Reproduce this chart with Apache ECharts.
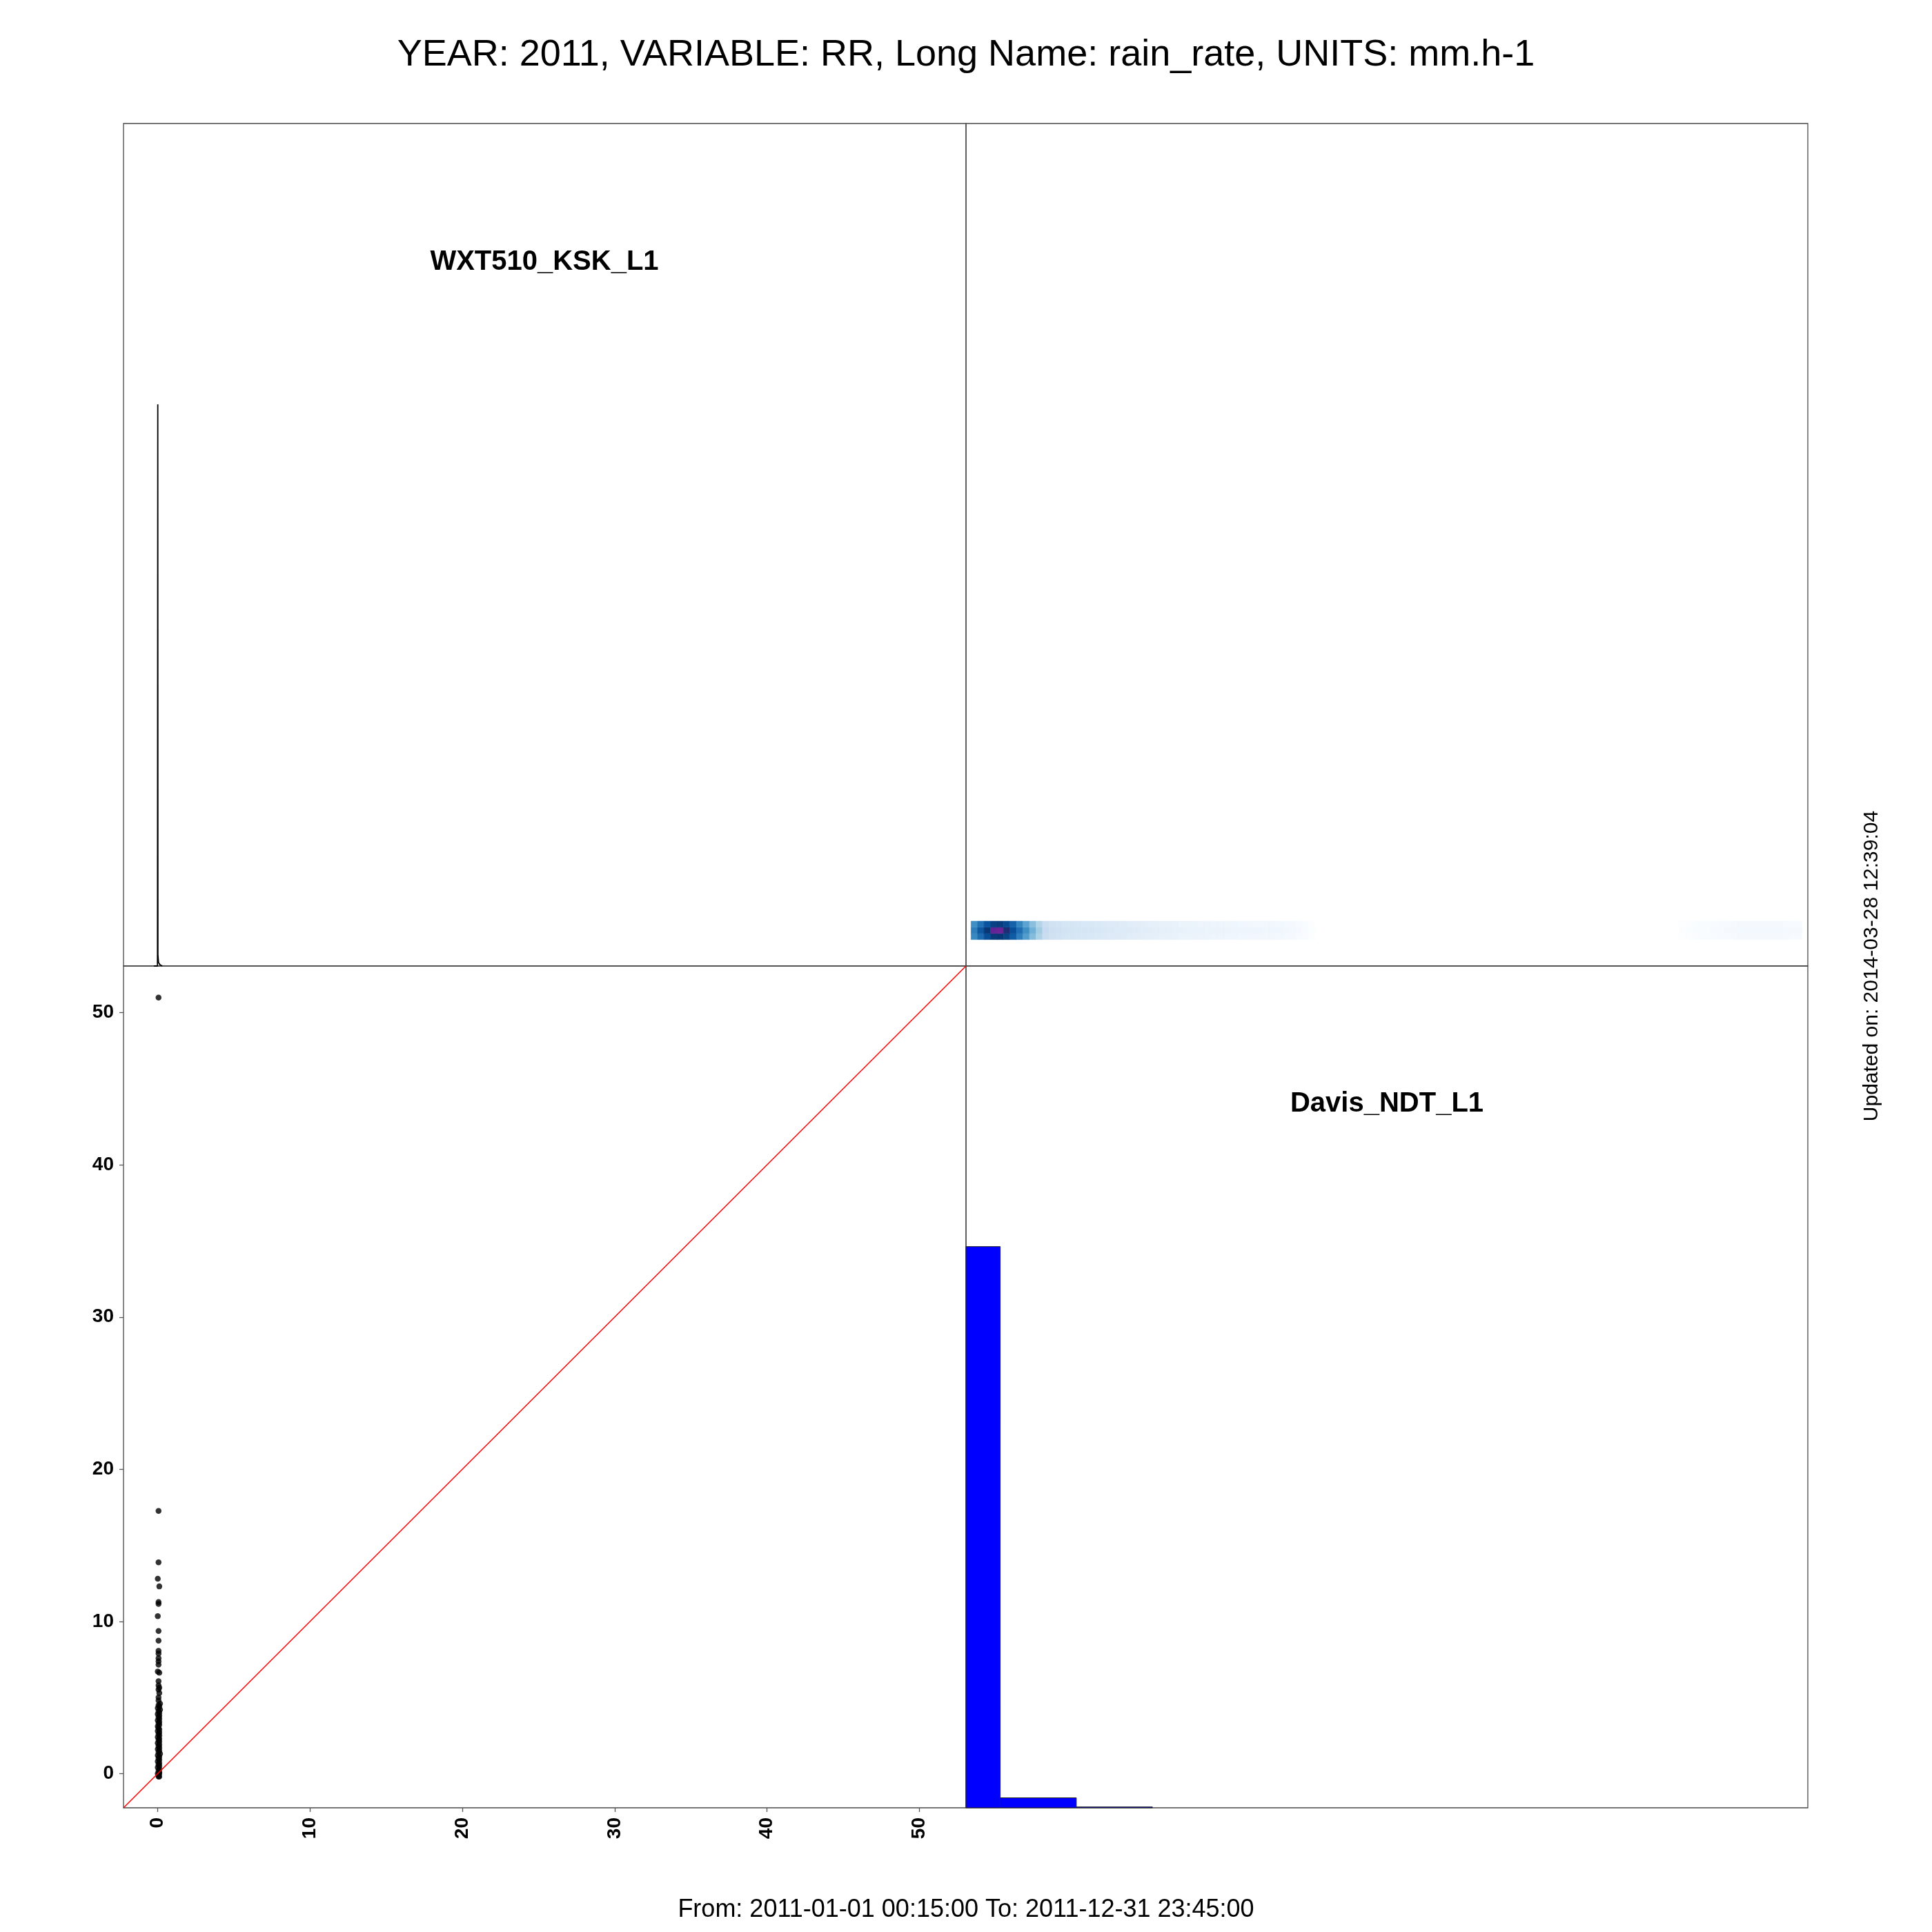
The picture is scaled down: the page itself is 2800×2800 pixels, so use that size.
<!DOCTYPE html>
<html>
<head>
<meta charset="utf-8">
<script src="https://cdn.jsdelivr.net/npm/echarts@6/dist/echarts.min.js"></script>
<style>
html,body{margin:0;padding:0;background:#fff;}
#chart{width:2800px;height:2800px;}
</style>
</head>
<body>
<div id="chart"></div>
<script>
// ---------------- data ----------------
var titleText = 'YEAR: 2011, VARIABLE: RR, Long Name: rain_rate, UNITS: mm.h-1';
var periodText = 'From: 2011-01-01 00:15:00 To: 2011-12-31 23:45:00';
var updatedText = 'Updated on: 2014-03-28 12:39:04';
var varNames = ['WXT510_KSK_L1', 'Davis_NDT_L1'];

// common plotting range of both variables (mm.h-1)
var rangeLo = -2.25;
var rangeHi = 53.07;
var tickValues = [0, 10, 20, 30, 40, 50];

// scatter: WXT510 (x) vs Davis (y)
var wxtValues = [0.05,0.05,0.05,0.0,0.1,0.05,0.05,0.0,0.05,0.05,0.05,0.05,0.05,0.05,0.05,0.0,0.1,0.05,0.05,0.1,0.05,0.1,0.05,0.05,0.15,0.05,
  0.1,0.0,0.15,0.05,0.1,0.0,0.1,0.05,0.1,0.0,0.1,0.05,0.1,0.0,0.05,0.1,0.0,0.1,0.05,0.1,0.0,0.1,0.05,0.1,0.0,0.1,0.05,0.1,0.0,0.1,0.05,0.15,0.0,0.1,0.05,0.1,0.0,0.1,0.05,0.1,0.0,0.1,0.05,0.1,0.0,0.1,0.05,0.05,0.1];
var davisValues = [51.0,17.26,13.88,12.8,12.3,11.27,11.15,10.34,9.37,8.74,8.07,7.89,7.58,7.37,7.16,6.71,6.63,6.07,5.8,5.65,5.51,5.29,5.0,4.8,4.6,4.5,
  4.4,4.3,4.2,4.1,4.0,3.9,3.8,3.7,3.6,3.5,3.4,3.3,3.2,3.1,3.0,2.9,2.8,2.7,2.6,2.5,2.4,2.3,2.2,2.1,2.0,1.9,1.8,1.7,1.6,1.5,1.4,1.3,1.2,1.1,1.0,0.9,0.8,0.7,0.6,0.5,0.4,0.3,0.2,0.1,0.0,0.0,-0.1,-0.2,-0.2];

// density of WXT510 (scaled to max 1)
var densX = [-0.25, -0.02, 0.0, 0.01, 0.05, 0.15, 0.3];
var densY = [0, 0, 1, 0.02, 0.006, 0.002, 0];

// histogram of Davis (breaks + counts scaled to max 1)
var histBreaks = [-5, 0, 5, 10];
var histCounts = [1, 0.0178, 0.0015];

// smoothed density grid (Davis on x, WXT510 on y), transformed values 0..1
var heatXMin = -1.919;
var heatXMax = 52.71;
var heatNBins = 128;
var heatRowEdges = [-0.515, -0.112, 0.292, 0.695];
var heatLeftStart = 0;     // first bin of the left band
var heatRightStart = 109;  // first bin of the right band
var heatRowBottomLeft = [0.63,0.72,0.81,0.87,0.88,0.84,0.77,0.66,0.56,0.45,0.36,0.285,
  0.26,0.25,0.24,0.235,0.23,0.225,0.22,0.215,0.21,0.205,
  0.2,0.195,0.19,0.185,0.18,0.175,0.17,0.165,0.16,0.155,
  0.15,0.148,0.145,0.142,0.14,0.138,0.135,0.132,0.13,0.128,
  0.126,0.125,0.125,0.124,0.122,0.12,0.115,0.11,0.1,0.08,0.05];
var heatRowMidLeft = [0.66,0.78,0.88,0.99,1.0,0.92,0.81,0.71,0.61,0.49,0.39,0.30,
  0.27,0.26,0.25,0.245,0.24,0.235,0.23,0.225,0.22,0.215,
  0.21,0.205,0.2,0.195,0.19,0.185,0.18,0.175,0.17,0.165,
  0.16,0.158,0.155,0.152,0.15,0.148,0.145,0.142,0.14,0.138,
  0.136,0.135,0.135,0.134,0.132,0.13,0.125,0.12,0.11,0.09,0.06];
var heatRowTopLeft = [0.61,0.70,0.79,0.85,0.86,0.82,0.75,0.64,0.54,0.44,0.35,0.28,
  0.26,0.25,0.24,0.235,0.23,0.225,0.22,0.215,0.21,0.205,
  0.2,0.195,0.19,0.185,0.18,0.175,0.17,0.165,0.16,0.155,
  0.15,0.148,0.145,0.142,0.14,0.138,0.135,0.132,0.13,0.128,
  0.126,0.125,0.125,0.124,0.122,0.12,0.115,0.11,0.1,0.08,0.05];
var heatRowBottomRight = [0.03,0.05,0.06,0.07,0.08,0.09,0.095,0.1,0.105,0.11,0.11,0.11,0.11,0.11,0.11,0.11,0.105,0.1,0.1];
var heatRowMidRight = [0.04,0.06,0.07,0.08,0.09,0.1,0.1,0.11,0.11,0.115,0.12,0.12,0.12,0.12,0.12,0.12,0.115,0.11,0.11];
var heatRowTopRight = [0.03,0.05,0.06,0.07,0.08,0.09,0.095,0.1,0.105,0.11,0.11,0.11,0.11,0.11,0.11,0.11,0.105,0.1,0.1];
var heatColors = ['#FFFFFF','#F7FBFF','#DEEBF7','#C6DBEF','#9ECAE1','#6BAED6','#4292C6','#2171B5','#08519C','#08306B','#6B2399'];

// ---------------- build ----------------
var FONT = 'Liberation Sans, Arial, Helvetica, sans-serif';
var scatterData = wxtValues.map(function (x, i) { return [x, davisValues[i]]; });
var densData = densX.map(function (x, i) { return [x, densY[i]]; });
var histData = histCounts.map(function (c, i) { return [histBreaks[i], histBreaks[i + 1], c]; });

var heatData = [];
var heatDX = (heatXMax - heatXMin) / heatNBins;
function pushRow(vals, start, r) {
  vals.forEach(function (v, k) {
    var i = start + k;
    heatData.push([heatXMin + i * heatDX, heatXMin + (i + 1) * heatDX, heatRowEdges[r], heatRowEdges[r + 1], v]);
  });
}
pushRow(heatRowBottomLeft, heatLeftStart, 0);
pushRow(heatRowMidLeft, heatLeftStart, 1);
pushRow(heatRowTopLeft, heatLeftStart, 2);
pushRow(heatRowBottomRight, heatRightStart, 0);
pushRow(heatRowMidRight, heatRightStart, 1);
pushRow(heatRowTopRight, heatRightStart, 2);

var identityLine = [[rangeLo, rangeLo], [rangeHi, rangeHi]];

var P0 = 179, PM = 1400, P1 = 2620;
function gridAt(l, t, w, h) {
  return { left: l, top: t, width: w, height: h, show: true, borderColor: '#4a4a4a', borderWidth: 1.3, backgroundColor: 'transparent', containLabel: false };
}
function hiddenAxis(g, lo, hi) {
  return { type: 'value', gridIndex: g, min: lo, max: hi, show: false, axisLine: { onZero: false }, splitLine: { show: false } };
}

function clipRect(rect, params) {
  return echarts.graphic.clipRectByRect(rect, {
    x: params.coordSys.x, y: params.coordSys.y,
    width: params.coordSys.width, height: params.coordSys.height
  });
}

var option = {
  backgroundColor: '#ffffff',
  animation: false,
  textStyle: { fontFamily: FONT },
  grid: [
    gridAt(P0, P0, PM - P0, PM - P0),
    gridAt(PM, P0, P1 - PM, PM - P0),
    gridAt(P0, PM, PM - P0, P1 - PM),
    gridAt(PM, PM, P1 - PM, P1 - PM)
  ],
  xAxis: [
    hiddenAxis(0, rangeLo, rangeHi),
    hiddenAxis(1, rangeLo, rangeHi),
    {
      type: 'value', gridIndex: 2, min: rangeLo, max: rangeHi, position: 'bottom',
      axisLine: { show: false, onZero: false },
      splitLine: { show: false },
      axisTick: { show: true, length: 6, customValues: tickValues, lineStyle: { color: '#555', width: 1.3 } },
      axisLabel: { show: true, customValues: tickValues, rotate: 90, margin: 14, fontSize: 28, fontWeight: 'bold', color: '#000', fontFamily: FONT }
    },
    hiddenAxis(3, rangeLo, rangeHi)
  ],
  yAxis: [
    hiddenAxis(0, 0, 1.5),
    hiddenAxis(1, rangeLo, rangeHi),
    {
      type: 'value', gridIndex: 2, min: rangeLo, max: rangeHi, position: 'left',
      axisLine: { show: false, onZero: false },
      splitLine: { show: false },
      axisTick: { show: true, length: 6, customValues: tickValues, lineStyle: { color: '#555', width: 1.3 } },
      axisLabel: { show: true, customValues: tickValues, margin: 14, fontSize: 28, fontWeight: 'bold', color: '#000', fontFamily: FONT }
    },
    hiddenAxis(3, 0, 1.5)
  ],
  visualMap: [{
    type: 'continuous', show: false, seriesIndex: 1, dimension: 4,
    min: 0, max: 1, inRange: { color: heatColors }
  }],
  series: [
    {
      type: 'line', xAxisIndex: 0, yAxisIndex: 0, data: densData,
      showSymbol: false, symbol: 'none', clip: true,
      lineStyle: { color: '#000', width: 1.8 }, silent: true
    },
    {
      type: 'custom', xAxisIndex: 1, yAxisIndex: 1, data: heatData,
      dimensions: ['x0', 'x1', 'y0', 'y1', 'v'],
      encode: { x: [0, 1], y: [2, 3] },
      renderItem: function (params, api) {
        var a = api.coord([api.value(0), api.value(2)]);
        var b = api.coord([api.value(1), api.value(3)]);
        var rect = { x: Math.min(a[0], b[0]), y: Math.min(a[1], b[1]), width: Math.abs(b[0] - a[0]), height: Math.abs(b[1] - a[1]) };
        var r = clipRect(rect, params);
        if (!r) return null;
        var c = api.visual('color');
        return { type: 'rect', shape: r, style: { fill: c, stroke: c, lineWidth: 0.6 } };
      },
      silent: true
    },
    {
      type: 'line', xAxisIndex: 2, yAxisIndex: 2, data: identityLine,
      showSymbol: false, symbol: 'none', clip: true,
      lineStyle: { color: '#FF0000', width: 1.5 }, silent: true
    },
    {
      type: 'scatter', xAxisIndex: 2, yAxisIndex: 2, data: scatterData,
      symbol: 'circle', symbolSize: 8.5, itemStyle: { color: '#000' }, silent: true
    },
    {
      type: 'custom', xAxisIndex: 3, yAxisIndex: 3, data: histData,
      dimensions: ['b0', 'b1', 'count'],
      encode: { x: [0, 1], y: 2 },
      renderItem: function (params, api) {
        var a = api.coord([api.value(0), 0]);
        var b = api.coord([api.value(1), api.value(2)]);
        var rect = { x: a[0], y: b[1], width: b[0] - a[0], height: a[1] - b[1] };
        var r = clipRect(rect, params);
        if (!r) return null;
        return { type: 'rect', shape: r, style: { fill: '#0000FF', stroke: '#222', lineWidth: 1 } };
      },
      silent: true
    }
  ],
  graphic: [
    { type: 'text', x: 1400, y: 80, style: { text: titleText, font: 'normal 54px ' + FONT, fill: '#000', align: 'center', verticalAlign: 'middle' } },
    { type: 'text', x: 1400, y: 2768, style: { text: periodText, font: 'normal 36px ' + FONT, fill: '#000', align: 'center', verticalAlign: 'middle' } },
    { type: 'text', x: 2713, y: 1400, rotation: Math.PI / 2, style: { text: updatedText, font: 'normal 30px ' + FONT, fill: '#000', align: 'center', verticalAlign: 'middle' } },
    { type: 'text', x: 789, y: 380, style: { text: varNames[0], font: 'bold 40px ' + FONT, fill: '#000', align: 'center', verticalAlign: 'middle' } },
    { type: 'text', x: 2010, y: 1600, style: { text: varNames[1], font: 'bold 40px ' + FONT, fill: '#000', align: 'center', verticalAlign: 'middle' } }
  ]
};

var chart = echarts.init(document.getElementById('chart'), null, { renderer: 'canvas', width: 2800, height: 2800 });
chart.setOption(option);
</script>
</body>
</html>
